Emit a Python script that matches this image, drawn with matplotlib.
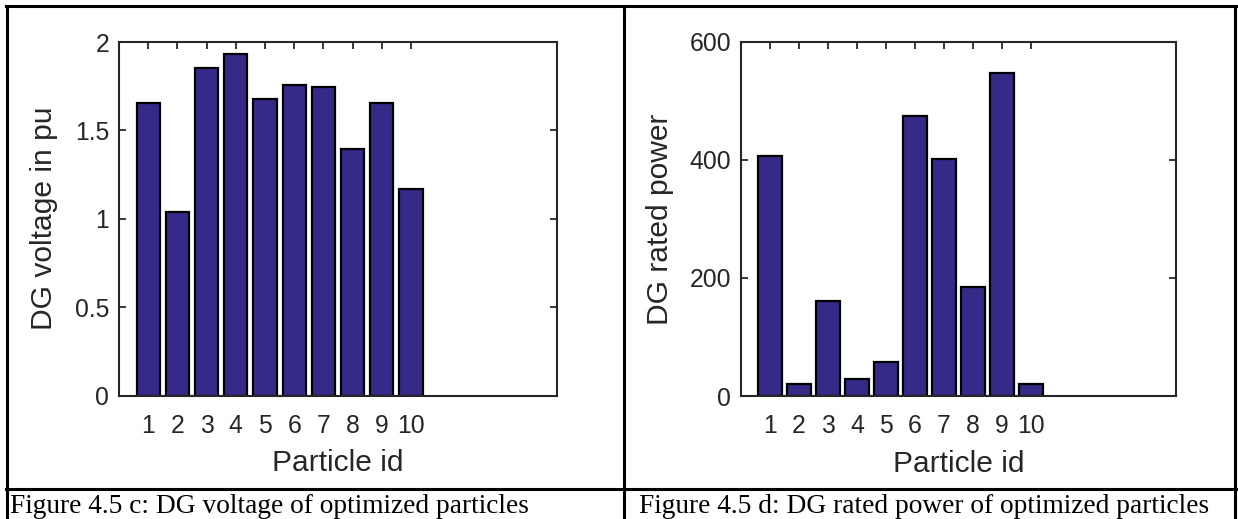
import matplotlib
matplotlib.use("Agg")
import matplotlib.pyplot as plt

# data
particle_ids = [1, 2, 3, 4, 5, 6, 7, 8, 9, 10]
dg_voltage = [1.657, 1.037, 1.852, 1.934, 1.680, 1.757, 1.744, 1.393, 1.655, 1.170]
dg_power = [407, 20, 161, 28, 57, 475, 401, 184, 547, 21]

volt_ticks = [0, 0.5, 1, 1.5, 2]
volt_ticklabels = ['0', '0.5', '1', '1.5', '2']
power_ticks = [0, 200, 400, 600]

captions = ['Figure 4.5 c: DG voltage of optimized particles',
            'Figure 4.5 d: DG rated power of optimized particles']

W, H = 1238, 519
bar_color = '#352a87'
ink = '#262626'

plt.rcParams['font.family'] = ['Liberation Sans', 'DejaVu Sans']

fig = plt.figure(figsize=(W / 100, H / 100), dpi=100)


def px_axes(left, top, right, bottom):
    return fig.add_axes([left / W, 1 - bottom / H, (right - left) / W, (bottom - top) / H])


def draw_panel(ax, values, yticks, yticklabels, ylabel, ylabel_x):
    ax.bar(particle_ids, values, width=0.8, color=bar_color,
           edgecolor='black', linewidth=1.6, zorder=2)
    ax.set_xlim(0, 15)
    ax.set_ylim(yticks[0], yticks[-1])
    ax.set_xticks(particle_ids)
    ax.set_xticklabels([str(i) for i in particle_ids])
    ax.set_yticks(yticks)
    ax.set_yticklabels(yticklabels)
    ax.tick_params(direction='in', length=5, width=1.3, colors=ink,
                   labelsize=17.8, top=True, right=True)
    ax.tick_params(axis='x', pad=13)
    ax.tick_params(axis='y', pad=7)
    for s in ax.spines.values():
        s.set_color(ink)
        s.set_linewidth(1.5)
        s.set_zorder(3)
    ax.set_xlabel('Particle id', fontsize=21.6, color=ink)
    ax.xaxis.label.set_va('center')
    ax.xaxis.set_label_coords(0.5, -0.192)
    ax.set_ylabel(ylabel, fontsize=21.6, color=ink)
    ax.yaxis.label.set_va('center')
    ax.yaxis.set_label_coords(ylabel_x, 0.5)


ax1 = px_axes(119, 42, 557, 395.5)
draw_panel(ax1, dg_voltage, volt_ticks, volt_ticklabels, 'DG voltage in pu', -0.172)

ax2 = px_axes(741, 42, 1176, 396)
draw_panel(ax2, dg_power, power_ticks, [str(t) for t in power_ticks], 'DG rated power', -0.186)

# table borders around the two figures
lw = 2.2
for x in [7, 624, 1235]:
    fig.add_artist(plt.Line2D([x / W, x / W], [0, 1 - 6 / H], color='black', lw=lw))
for y in [6, 489]:
    fig.add_artist(plt.Line2D([6 / W, 1236 / W], [1 - y / H, 1 - y / H], color='black', lw=lw))

# captions
fig.text(10 / W, 1 - 513 / H, captions[0], family='Liberation Serif', fontsize=19.7,
         va='baseline', ha='left', color='black')
fig.text(639 / W, 1 - 513 / H, captions[1], family='Liberation Serif', fontsize=19.7,
         va='baseline', ha='left', color='black')

fig.savefig('out.png', dpi=100)
